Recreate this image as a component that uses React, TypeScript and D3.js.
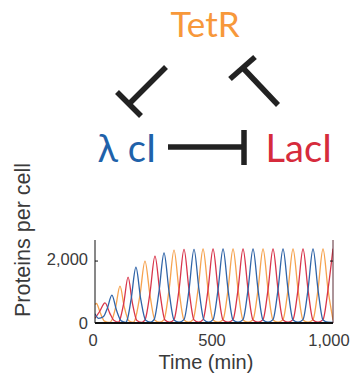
import React from "react";
import * as d3 from "d3";

// Time (min) / proteins per cell key points
const tetRTimes = [0, 6, 22, 40, 60, 70, 87, 105, 123, 142, 160, 168, 189, 210, 231, 252, 272, 290, 311, 332, 353, 374, 393, 412, 433, 454, 475, 496, 517, 538, 559, 580, 601, 622, 643, 664, 685, 706, 727, 748, 769, 790, 811, 832, 853, 874, 895, 916, 937, 958, 979, 1000];
const tetRValues = [600, 630, 330, 60, 20, 80, 520, 1190, 520, 70, 20, 100, 900, 2000, 900, 90, 25, 110, 1060, 2350, 1060, 100, 25, 110, 1080, 2390, 1080, 100, 25, 110, 1080, 2390, 1080, 100, 25, 110, 1080, 2390, 1080, 100, 25, 110, 1080, 2390, 1080, 100, 25, 110, 1080, 2390, 1080, 100];

const lacITimes = [0, 20, 42, 62, 80, 100, 104, 121, 139, 157, 176, 195, 210, 231, 252, 273, 294, 313, 332, 353, 374, 395, 416, 435, 454, 475, 496, 517, 538, 559, 580, 601, 622, 643, 664, 685, 706, 727, 748, 769, 790, 811, 832, 853, 874, 895, 916, 937, 958, 979, 1000];
const lacIValues = [150, 380, 650, 320, 80, 25, 90, 650, 1480, 650, 80, 20, 100, 970, 2160, 970, 95, 25, 110, 1070, 2380, 1070, 100, 25, 110, 1080, 2390, 1080, 100, 25, 110, 1080, 2390, 1080, 100, 25, 110, 1080, 2390, 1080, 100, 25, 110, 1080, 2390, 1080, 100, 25, 110, 1080, 2400];

const cITimes = [0, 15, 35, 52, 71, 90, 110, 130, 135, 152, 172, 192, 213, 232, 248, 269, 290, 311, 332, 353, 374, 395, 416, 437, 458, 477, 496, 517, 538, 559, 580, 601, 622, 643, 664, 685, 706, 727, 748, 769, 790, 811, 832, 853, 874, 895, 916, 937, 958, 979, 1000];
const cIValues = [300, 150, 200, 480, 900, 420, 70, 20, 90, 780, 1800, 780, 85, 25, 105, 1020, 2260, 1020, 100, 25, 110, 1070, 2380, 1070, 100, 25, 110, 1080, 2390, 1080, 100, 25, 110, 1080, 2390, 1080, 100, 25, 110, 1080, 2390, 1080, 100, 25, 110, 1080, 2390, 1080, 100, 25, 20];

const xTicks = [0, 500, 1000];
const yTicks = [0, 2000];

const W = 351;
const H = 379;
const plot = { left: 95, right: 333, top: 240, bottom: 323 };

const COLORS = {
  tetR: "#F6A24E",
  lacI: "#D8354A",
  cI: "#2F64A8",
};

export default function App() {
  const x = d3.scaleLinear().domain([0, 1000]).range([plot.left, plot.right]);
  const y = d3.scaleLinear().domain([0, 2680]).range([plot.bottom, plot.top]);
  const fmt = d3.format(",");

  const mk = (ts: number[], vs: number[]) =>
    d3
      .line<number>()
      .x((_, i) => x(ts[i]))
      .y((v) => y(v))
      .curve(d3.curveMonotoneX)(vs) || "";

  const series = [
    { key: "tetR", d: mk(tetRTimes, tetRValues), color: COLORS.tetR },
    { key: "lacI", d: mk(lacITimes, lacIValues), color: COLORS.lacI },
    { key: "cI", d: mk(cITimes, cIValues), color: COLORS.cI },
  ];

  const diagramFont = "Lato, 'Open Sans', Arial, sans-serif";
  const axisFont = "'Liberation Sans', Arial, Helvetica, sans-serif";
  const labelColor = "#3a3a3a";

  return (
    <svg
      width={W}
      height={H}
      style={{ position: "absolute", left: 0, top: 0, background: "#fff" }}
    >
      {/* Network diagram */}
      <g fontFamily={diagramFont}>
        <text x={205} y={37} textAnchor="middle" fontSize={35} fill="#F7983A">
          TetR
        </text>
        <text x={127} y={162} textAnchor="middle" fontSize={38} fill="#1F62AA">
          λ cI
        </text>
        <text x={299} y={162} textAnchor="middle" fontSize={38} fill="#D62B3C">
          LacI
        </text>
      </g>
      <g stroke="#222" strokeWidth={5.5} strokeLinecap="butt" fill="none">
        <line x1={168} y1={147} x2={244} y2={147} />
        <line x1={244} y1={130} x2={244} y2={165} />
        <line x1={166} y1={67} x2={129} y2={104} />
        <line x1={117} y1={92} x2={141} y2={116} />
        <line x1={278} y1={105} x2={243} y2={68} />
        <line x1={230} y1={79} x2={255} y2={57} />
      </g>

      {/* Plot */}
      <defs>
        <clipPath id="plotClip">
          <rect x={plot.left} y={plot.top} width={plot.right - plot.left} height={plot.bottom - plot.top} />
        </clipPath>
      </defs>
      <g clipPath="url(#plotClip)">
        {series.map((s) => (
          <path key={s.key} d={s.d} fill="none" stroke={s.color} strokeWidth={1.3} />
        ))}
      </g>

      {/* Axes */}
      <line x1={plot.left} y1={plot.top} x2={plot.left} y2={plot.bottom} stroke="#111" strokeWidth={1} />
      <line x1={plot.right} y1={plot.top} x2={plot.right} y2={plot.bottom} stroke="#5a2a35" strokeWidth={1} />
      <line x1={plot.left} y1={plot.bottom} x2={plot.right} y2={plot.bottom} stroke="#111" strokeWidth={2} />
      <g fontFamily={axisFont} fill={labelColor}>
        {yTicks.map((t) => (
          <g key={"yt" + t}>
            <line x1={plot.left} x2={plot.left + 3} y1={y(t)} y2={y(t)} stroke="#111" />
            <line x1={plot.right - 3} x2={plot.right} y1={y(t)} y2={y(t)} stroke="#111" />
            <text
              x={plot.left - 7}
              y={y(t) + (t === 0 ? 2 : 0)}
              textAnchor="end"
              dominantBaseline="middle"
              fontSize={16.5}
            >
              {fmt(t)}
            </text>
          </g>
        ))}
        {xTicks.map((t) => (
          <text
            key={"xt" + t}
            x={x(t) - (t === 1000 ? 4 : 2)}
            y={342}
            textAnchor="middle"
            dominantBaseline="middle"
            fontSize={16.5}
          >
            {fmt(t)}
          </text>
        ))}
        <text x={x(500) - 8} y={364} textAnchor="middle" dominantBaseline="middle" fontSize={20}>
          Time (min)
        </text>
        <text
          transform="translate(24,240) rotate(-90)"
          textAnchor="middle"
          dominantBaseline="middle"
          fontSize={21.5}
        >
          Proteins per cell
        </text>
      </g>
    </svg>
  );
}
